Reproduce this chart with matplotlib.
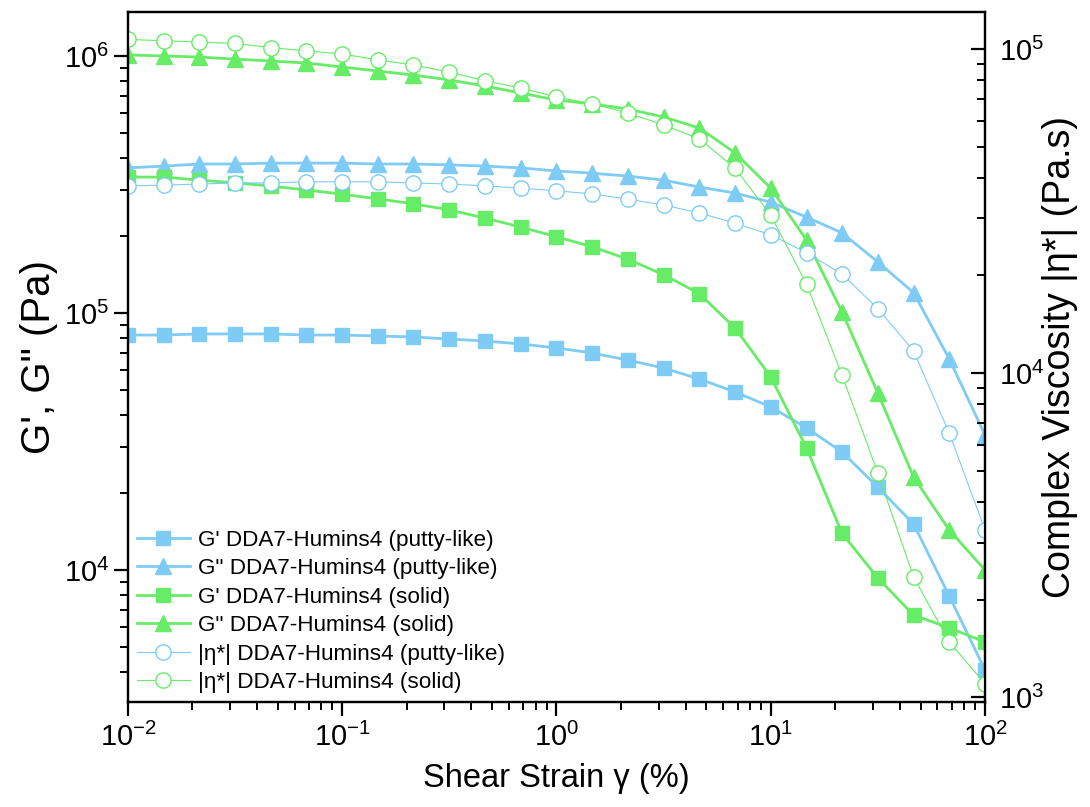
import matplotlib
matplotlib.use('Agg')
import matplotlib.pyplot as plt
from matplotlib.ticker import LogLocator, NullFormatter

plt.rcParams['font.family'] = ['Liberation Sans', 'DejaVu Sans']
plt.rcParams['mathtext.fontset'] = 'custom'
plt.rcParams['mathtext.rm'] = 'Liberation Sans'
plt.rcParams['mathtext.it'] = 'Liberation Sans:italic'

# shear strain (%)
strain = [0.01, 0.0147, 0.0215, 0.0316, 0.0464, 0.0681, 0.1, 0.147, 0.215, 0.316,
          0.464, 0.681, 1.0, 1.47, 2.15, 3.16, 4.64, 6.81, 10.0, 14.7, 21.5, 31.6,
          46.4, 68.1, 100.0]

# moduli (Pa)
g1_putty = [8.21e4, 8.21e4, 8.29e4, 8.29e4, 8.29e4, 8.21e4, 8.21e4, 8.14e4, 8.07e4,
            7.92e4, 7.78e4, 7.58e4, 7.31e4, 6.99e4, 6.56e4, 6.11e4, 5.54e4, 4.93e4,
            4.31e4, 3.57e4, 2.88e4, 2.10e4, 1.51e4, 7.92e3, 4.08e3]
g2_putty = [3.67e5, 3.73e5, 3.80e5, 3.80e5, 3.83e5, 3.83e5, 3.83e5, 3.80e5, 3.80e5,
            3.77e5, 3.73e5, 3.67e5, 3.57e5, 3.50e5, 3.41e5, 3.29e5, 3.09e5, 2.93e5,
            2.70e5, 2.36e5, 2.05e5, 1.58e5, 1.20e5, 6.62e4, 3.35e4]
g1_solid = [3.38e5, 3.38e5, 3.29e5, 3.21e5, 3.12e5, 3.01e5, 2.90e5, 2.78e5, 2.66e5,
            2.52e5, 2.34e5, 2.16e5, 1.98e5, 1.81e5, 1.62e5, 1.41e5, 1.19e5, 8.74e4,
            5.64e4, 2.98e4, 1.39e4, 9.31e3, 6.68e3, 5.95e3, 5.25e3]
g2_solid = [1.01e6, 1.00e6, 9.91e5, 9.73e5, 9.56e5, 9.39e5, 9.06e5, 8.74e5, 8.43e5,
            8.07e5, 7.64e5, 7.18e5, 6.74e5, 6.51e5, 6.22e5, 5.79e5, 5.25e5, 4.20e5,
            3.06e5, 1.92e5, 1.01e5, 4.88e4, 2.30e4, 1.43e4, 1.00e4]

# complex viscosity (Pa.s)
eta_putty = [3.78e4, 3.80e4, 3.83e4, 3.86e4, 3.86e4, 3.89e4, 3.89e4, 3.89e4, 3.86e4,
             3.83e4, 3.78e4, 3.72e4, 3.65e4, 3.57e4, 3.44e4, 3.30e4, 3.12e4, 2.90e4,
             2.67e4, 2.35e4, 2.02e4, 1.58e4, 1.17e4, 6.53e3, 3.28e3]
eta_solid = [1.07e5, 1.06e5, 1.05e5, 1.04e5, 1.01e5, 9.86e4, 9.65e4, 9.25e4, 8.93e4,
             8.49e4, 7.97e4, 7.58e4, 7.11e4, 6.77e4, 6.35e4, 5.83e4, 5.28e4, 4.29e4,
             3.07e4, 1.88e4, 9.86e3, 4.91e3, 2.35e3, 1.48e3, 1.10e3]

blue = '#7ECBF6'
green = '#66EC66'

fig = plt.figure(figsize=(10.9, 8.07), dpi=100)
ax1 = fig.add_axes([0.1174, 0.1301, 0.7863, 0.8550])
ax2 = ax1.twinx()

l1, = ax1.plot(strain, g1_putty, color=blue, lw=2, marker='s', ms=10,
               label="G' DDA7-Humins4 (putty-like)")
l2, = ax1.plot(strain, g2_putty, color=blue, lw=2, marker='^', ms=12,
               label='G" DDA7-Humins4 (putty-like)')
l3, = ax1.plot(strain, g1_solid, color=green, lw=2, marker='s', ms=10,
               label="G' DDA7-Humins4 (solid)")
l4, = ax1.plot(strain, g2_solid, color=green, lw=2, marker='^', ms=12,
               label='G" DDA7-Humins4 (solid)')
l5, = ax2.plot(strain, eta_putty, color=blue, lw=0.8, marker='o', ms=11,
               mfc='white', mec=blue, mew=1.0,
               label='|\u03b7*| DDA7-Humins4 (putty-like)')
l6, = ax2.plot(strain, eta_solid, color=green, lw=0.8, marker='o', ms=11,
               mfc='white', mec=green, mew=1.0,
               label='|\u03b7*| DDA7-Humins4 (solid)')

for ax in (ax1, ax2):
    ax.set_xscale('log')
    ax.set_yscale('log')
ax1.set_xlim(0.01, 100)
ax1.set_ylim(3065, 1.483e6)
ax2.set_ylim(966, 1.30e5)

ax1.xaxis.set_major_locator(LogLocator(base=10, numticks=10))
ax1.xaxis.set_minor_locator(LogLocator(base=10, subs=range(2, 10), numticks=20))
ax1.xaxis.set_minor_formatter(NullFormatter())

for ax in (ax1, ax2):
    ax.yaxis.set_major_locator(LogLocator(base=10, numticks=10))
    ax.yaxis.set_minor_locator(LogLocator(base=10, subs=range(2, 10), numticks=20))
    ax.yaxis.set_minor_formatter(NullFormatter())
    for s in ax.spines.values():
        s.set_linewidth(1.6)

ax1.tick_params(axis='both', which='major', direction='out', length=10, width=1.6,
                labelsize=21, top=False, right=False)
ax1.tick_params(axis='both', which='minor', direction='out', length=6, width=1.4,
                top=False, right=False)
ax1.tick_params(axis='x', which='major', pad=5)
ax2.tick_params(axis='y', which='major', direction='in', length=10, width=1.6,
                labelsize=21, pad=10)
ax2.tick_params(axis='y', which='minor', direction='in', length=6, width=1.4)

ax1.set_xlabel('Shear Strain \u03b3 (%)', fontsize=23.5, labelpad=8)
ax1.set_ylabel('G\', G" (Pa)', fontsize=29, labelpad=4)
ax2.set_ylabel('Complex Viscosity |\u03b7*| (Pa.s)', fontsize=27, labelpad=-2)

ax2.legend(handles=[l1, l2, l3, l4, l5, l6], loc='lower left', frameon=False,
           fontsize=16.2, handlelength=2.35, handletextpad=0.36, labelspacing=0.33,
           borderpad=0.3, borderaxespad=0.1, numpoints=1)

fig.savefig('out.png', dpi=100)
